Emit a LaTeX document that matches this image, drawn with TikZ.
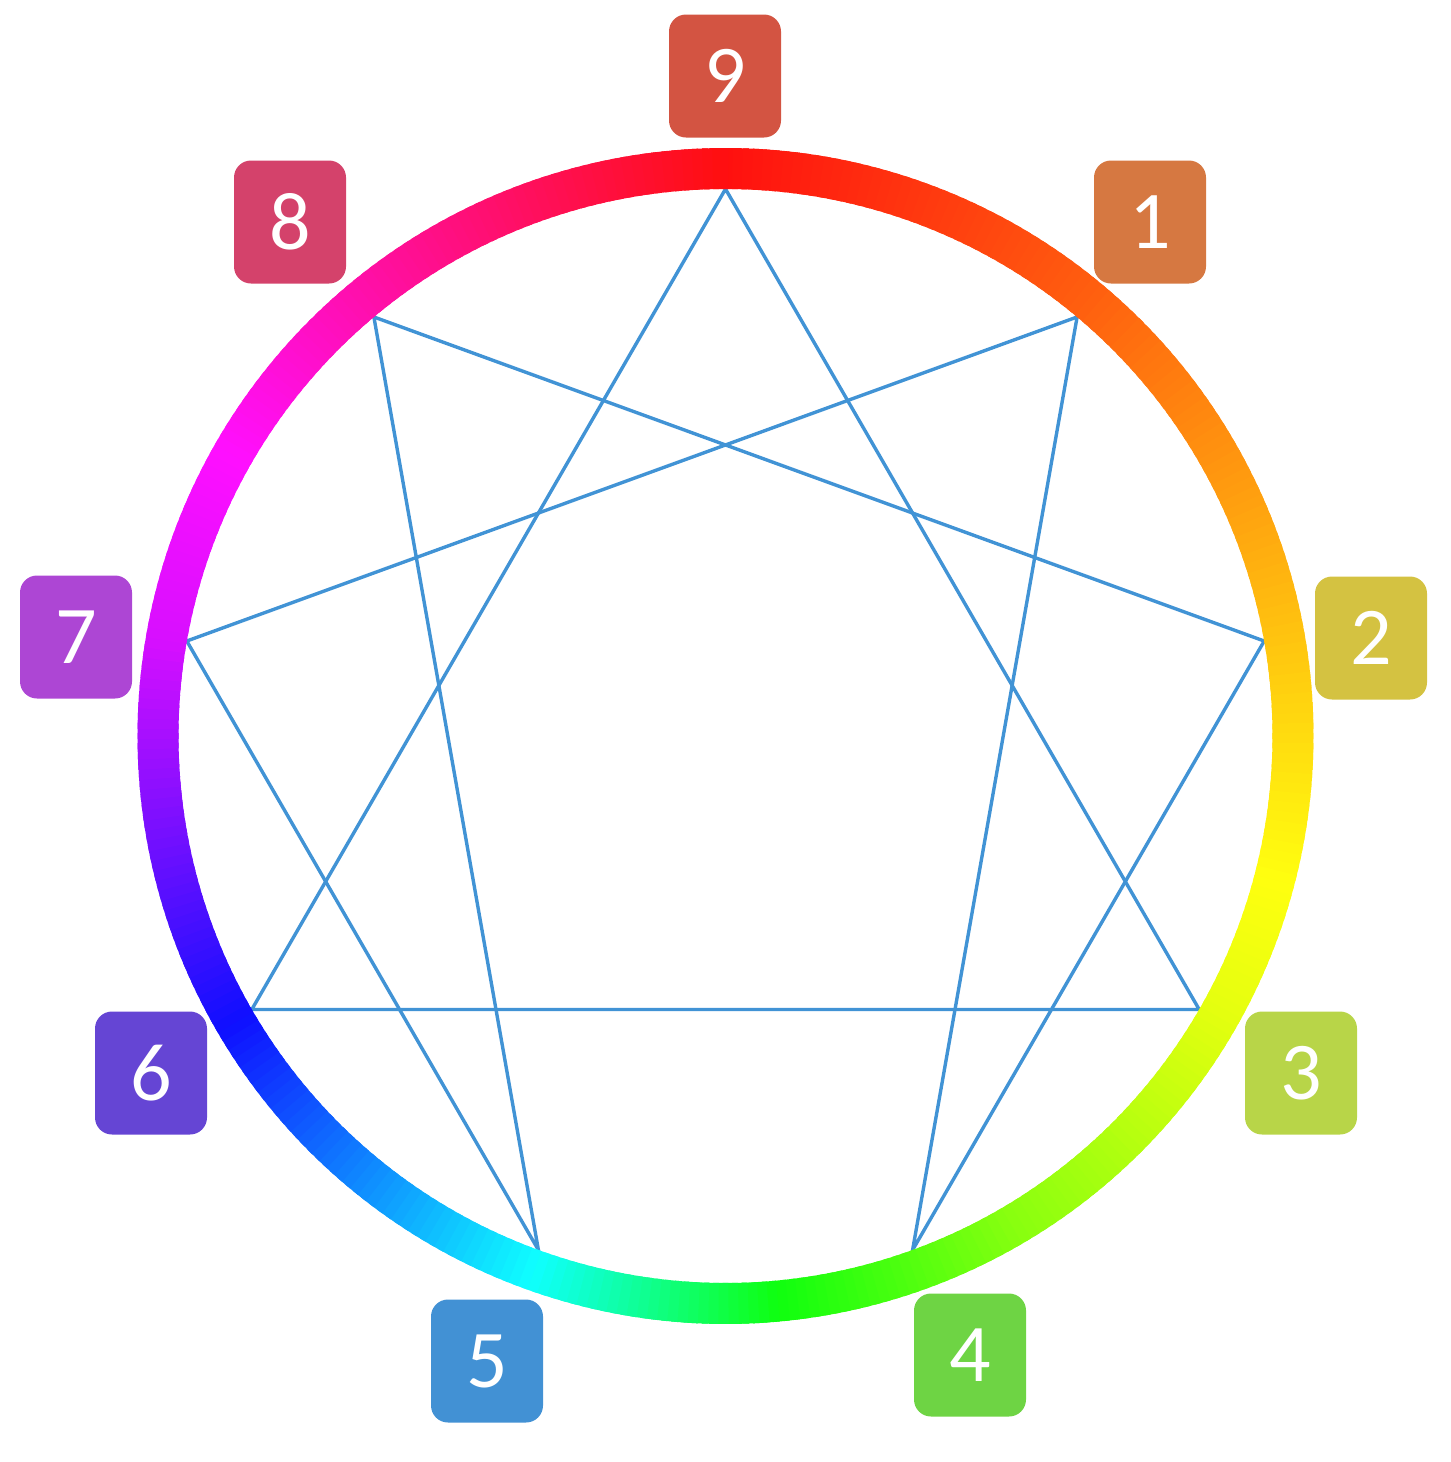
\documentclass[tikz,border=0pt]{standalone}
\usepackage{fontspec}
\newfontfamily\digitfont{Carlito}

\definecolor{enneablue}{HTML}{4193D5}
\definecolor{c1}{HTML}{D67841}
\definecolor{c2}{HTML}{D4C241}
\definecolor{c3}{HTML}{B8D548}
\definecolor{c4}{HTML}{6ED444}
\definecolor{c5}{HTML}{4291D4}
\definecolor{c6}{HTML}{6545D4}
\definecolor{c7}{HTML}{AD46D4}
\definecolor{c8}{HTML}{D4426B}
\definecolor{c9}{HTML}{D35442}

\begin{document}
\begin{tikzpicture}[x=0.5pt,y=-0.5pt,
	num/.style={rounded corners=8.5pt, minimum width=56pt, minimum height=61.5pt,
		inner sep=0pt, text=white, font=\digitfont\fontsize{41}{41}\selectfont}]
		\useasboundingbox (0,0) rectangle (1451,1462);

		\begin{scope}[shift={(725.5,736)}]
		%% points on the circle
		\foreach \i in {1,...,9}
			\coordinate (p\i) at (\i*40-90:547);

		%% triangle and hexad
		\draw[enneablue, line width=1.7pt] (p9)--(p3)--(p6)--cycle;
		\draw[enneablue, line width=1.7pt] (p1)--(p4)--(p2)--(p8)--(p5)--(p7)--cycle;

		%% colour ring
		\foreach \al in {0,...,359}{
			\pgfmathsetmacro\a{\al+0.5}
			\pgfmathsetmacro\hue{\a<40 ? \a*0.5 : (\a<80 ? 20+(\a-40)*0.625 :
				(\a<105 ? 45+(\a-80)*0.6 : (\a<120 ? 60+(\a-105)*7/15 :
				(\a<150 ? 67+(\a-120)*23/30 : (\a<175 ? 90+(\a-150)*1.2 :
				(\a<200 ? 120+(\a-175)*2.4 : (\a<240 ? 180+(\a-200)*1.5 :
				(\a<280 ? 240+(\a-240)*1.25 : (\a<300 ? 290+(\a-280)*0.5 : \a)))))))))}
			\definecolor{ringhue}{Hsb}{\hue,0.94,1}
			\pgfmathsetmacro\sa{\al-90.3}
			\pgfmathsetmacro\ea{\al-88.7}
			\fill[ringhue] (\sa:547)--(\sa:588) arc[start angle=\sa, end angle=\ea, radius=588]
				--(\ea:547) arc[start angle=\ea, end angle=\sa, radius=547]--cycle;
		}
		\end{scope}

		%% numbers
		\node[num, fill=c9] at (725,76)(n9){9};
		\node[num, fill=c1] at (1150,222)(n1){1};
		\node[num, fill=c2] at (1371,638)(n2){2};
		\node[num, fill=c3] at (1301,1073)(n3){3};
		\node[num, fill=c4] at (970,1355)(n4){4};
		\node[num, fill=c5] at (487,1361)(n5){5};
		\node[num, fill=c6] at (151,1073)(n6){6};
		\node[num, fill=c7] at (76,637)(n7){7};
		\node[num, fill=c8] at (290,222)(n8){8};
	\end{tikzpicture}
\end{document}
